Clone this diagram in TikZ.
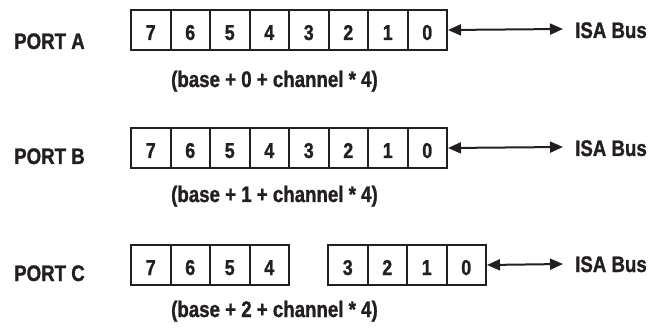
\documentclass[tikz,border=0pt]{standalone}
\usepackage{fontspec}
\setmainfont{Liberation Sans}[FakeStretch=0.83, BoldFeatures={FakeBold=1.2}]
\usetikzlibrary{arrows.meta}
\definecolor{ink}{HTML}{231F20}
\begin{document}
\begin{tikzpicture}[x=1pt,y=-1pt,
  cell/.style={draw=ink, line width=2pt, minimum width=39.5pt, minimum height=40pt,
    inner sep=0pt, text height=20pt, text depth=0pt, anchor=north west,
    font=\bfseries\fontsize{21.5}{21.5}\selectfont, text=ink},
  lbl/.style={inner sep=0pt, anchor=base west, text=ink,
    font=\bfseries\fontsize{22.5}{22.5}\selectfont},
  bus/.style={draw=ink, line width=2pt, {Triangle[length=13pt,width=11pt]}-{Triangle[length=13pt,width=11pt]}}]
\useasboundingbox (0,0) rectangle (653,331);
% Row A
\node[lbl] (pa) at (14,49) {PORT A};
\foreach \d [count=\i from 0] in {7,6,5,4,3,2,1,0}
  \node[cell] (a\d) at ({130+39.5*\i},9) {\d};
\node[lbl] (addra) at (171,87) {(base + 0 + channel * 4)};
\node[lbl] (isaa) at (575,38) {ISA Bus};
\coordinate (ea) at (563,29);
\draw[bus] (a0.east) -- (ea);
% Row B
\node[lbl] (pb) at (14,164) {PORT B};
\foreach \d [count=\i from 0] in {7,6,5,4,3,2,1,0}
  \node[cell] (b\d) at ({130+39.5*\i},127) {\d};
\node[lbl] (addrb) at (171,202) {(base + 1 + channel * 4)};
\node[lbl] (isab) at (575,156) {ISA Bus};
\coordinate (eb) at (563,147);
\draw[bus] (b0.east) -- (eb);
% Row C
\node[lbl] (pc) at (14,281) {PORT C};
\foreach \d [count=\i from 0] in {7,6,5,4}
  \node[cell] (c\d) at ({130+39.5*\i},244) {\d};
\foreach \d [count=\i from 0] in {3,2,1,0}
  \node[cell] (c\d) at ({327+39.5*\i},244) {\d};
\node[lbl] (addrc) at (171,317) {(base + 2 + channel * 4)};
\node[lbl] (isac) at (575,272) {ISA Bus};
\coordinate (ec) at (563,264);
\draw[bus] (c0.east) -- (ec);
\end{tikzpicture}
\end{document}
